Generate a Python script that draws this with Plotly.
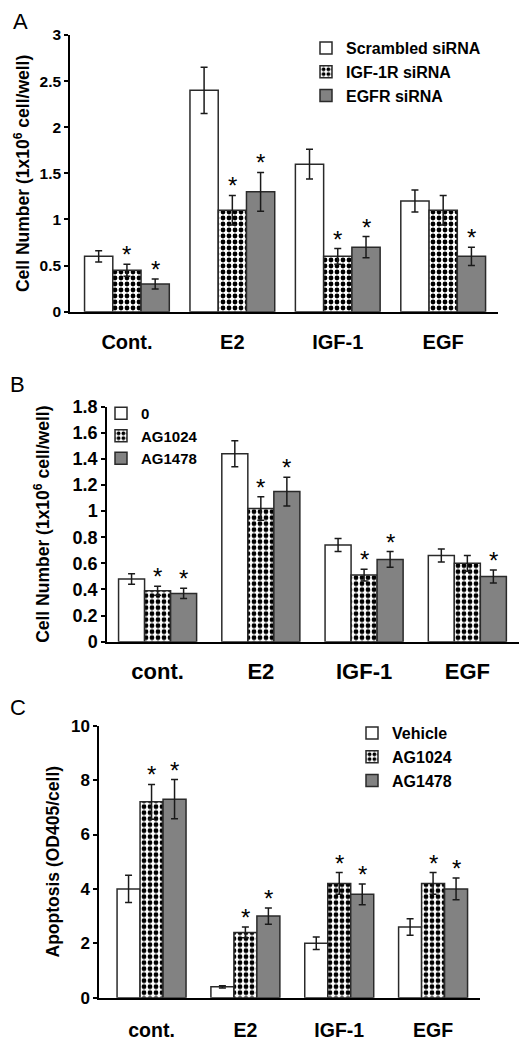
import plotly.graph_objects as go

# The page body adds an 8px margin; the figure is sized so that the page
# matches the 527x1050 reference, and positions below are page pixels.
PAGE_OFF = 8
W, H = 527 - PAGE_OFF, 1050 - PAGE_OFF
FONT = "Liberation Sans, Arial, sans-serif"

# ---------------- data ----------------
# Panel A
cats_a = ["Cont.", "E2", "IGF-1", "EGF"]
names_a = ["Scrambled siRNA", "IGF-1R siRNA", "EGFR siRNA"]
a_scr = [0.6, 2.4, 1.6, 1.2]
a_scr_err = [0.06, 0.25, 0.16, 0.12]
a_igf1r = [0.45, 1.1, 0.6, 1.1]
a_igf1r_err = [0.065, 0.16, 0.085, 0.16]
a_egfr = [0.3, 1.3, 0.7, 0.6]
a_egfr_err = [0.055, 0.21, 0.115, 0.10]
a_sig = [[0, 0, 0, 0], [1, 1, 1, 0], [1, 1, 1, 1]]

# Panel B
cats_b = ["cont.", "E2", "IGF-1", "EGF"]
names_b = ["0", "AG1024", "AG1478"]
b_0 = [0.48, 1.44, 0.74, 0.66]
b_0_err = [0.04, 0.10, 0.05, 0.05]
b_ag1024 = [0.39, 1.02, 0.51, 0.60]
b_ag1024_err = [0.035, 0.09, 0.045, 0.06]
b_ag1478 = [0.37, 1.15, 0.63, 0.50]
b_ag1478_err = [0.04, 0.11, 0.06, 0.05]
b_sig = [[0, 0, 0, 0], [1, 1, 1, 0], [1, 1, 1, 1]]

# Panel C
cats_c = ["cont.", "E2", "IGF-1", "EGF"]
names_c = ["Vehicle", "AG1024", "AG1478"]
c_veh = [4.0, 0.4, 2.0, 2.6]
c_veh_err = [0.5, 0.04, 0.23, 0.3]
c_ag1024 = [7.2, 2.4, 4.2, 4.2]
c_ag1024_err = [0.64, 0.2, 0.4, 0.4]
c_ag1478 = [7.3, 3.0, 3.8, 4.0]
c_ag1478_err = [0.72, 0.3, 0.38, 0.4]
c_sig = [[0, 0, 0, 0], [1, 1, 1, 1], [1, 1, 1, 1]]

# ---------------- styling ----------------
OUTLINE = dict(color="#2a2a2a", width=1.5)
GRAY = "#828282"


def styles():
    return [
        dict(color="white", line=OUTLINE),
        dict(color="white", line=OUTLINE,
             pattern=dict(shape=".", fgcolor="black", bgcolor="white",
                          size=6, solidity=0.5, fillmode="replace")),
        dict(color=GRAY, line=OUTLINE),
    ]


def px_x(x):
    return (x - PAGE_OFF) / W


def px_y(y):
    return 1 - (y - PAGE_OFF) / H


def xd(l, r):
    return [px_x(l), px_x(r)]


def yd(top, bottom):
    return [px_y(bottom), px_y(top)]


panels = [
    dict(cats=cats_a, names=names_a, vals=[a_scr, a_igf1r, a_egfr],
         errs=[a_scr_err, a_igf1r_err, a_egfr_err], sig=a_sig,
         xdom=xd(70, 498), ydom=yd(35, 311.7), xrange=[-0.54, 3.52],
         yrange=[0, 3], dtick=0.5, bw=0.268, tickfs=15.5, catfs=20,
         title="Cell Number (1x10<sup>6</sup> cell/well)", titlefs=17.5,
         standoff=5, catgap=12, legend_xy=(306, 31), legfs=16,
         letter="A", letter_xy=(11, 21)),
    dict(cats=cats_b, names=names_b, vals=[b_0, b_ag1024, b_ag1478],
         errs=[b_0_err, b_ag1024_err, b_ag1478_err], sig=b_sig,
         xdom=xd(107, 520), ydom=yd(406.7, 641.7), xrange=[-0.49, 3.51],
         yrange=[0, 1.8], dtick=0.2, bw=0.252, tickfs=18, catfs=22,
         title="Cell Number (1x10<sup>6</sup> cell/well)", titlefs=17.5,
         standoff=18, catgap=9, legend_xy=(101, 397), legfs=15,
         letter="B", letter_xy=(8, 385)),
    dict(cats=cats_c, names=names_c, vals=[c_veh, c_ag1024, c_ag1478],
         errs=[c_veh_err, c_ag1024_err, c_ag1478_err], sig=c_sig,
         xdom=xd(99, 480), ydom=yd(725.7, 997.7), xrange=[-0.56, 3.5],
         yrange=[0, 10], dtick=2, bw=0.245, tickfs=17, catfs=19.5,
         title="Apoptosis (OD405/cell)", titlefs=17.5,
         standoff=7, catgap=14, legend_xy=(352, 716), legfs=16,
         letter="C", letter_xy=(8, 707)),
]

fig = go.Figure()
annotations = []
layout = dict(
    width=W, height=H, margin=dict(l=0, r=0, t=0, b=0),
    paper_bgcolor="white", plot_bgcolor="white",
    barmode="overlay", font=dict(family=FONT, color="black"),
)

for pi, p in enumerate(panels):
    sfx = "" if pi == 0 else str(pi + 1)
    xa, ya = "x" + sfx, "y" + sfx
    leg = "legend" + sfx
    st = styles()
    bw = p["bw"]
    for k in range(3):
        off = (k - 1.5) * bw
        fig.add_trace(go.Bar(
            x=p["cats"], y=p["vals"][k], name=p["names"][k],
            width=bw, offset=off, marker=st[k],
            error_y=dict(type="data", array=p["errs"][k], visible=True,
                         color="#1a1a1a", thickness=1.5, width=3.5),
            xaxis=xa, yaxis=ya, legend=leg,
        ))
        for i in range(len(p["cats"])):
            if p["sig"][k][i]:
                annotations.append(dict(
                    x=i + (k - 1) * bw, y=p["vals"][k][i] + p["errs"][k][i],
                    xref=xa, yref=ya, text="*", showarrow=False,
                    yanchor="bottom", yshift=-6,
                    font=dict(family=FONT, size=24, color="black"),
                ))
    layout["xaxis" + sfx] = dict(
        domain=p["xdom"], anchor=ya, type="category", range=p["xrange"],
        showline=True, linecolor="black", linewidth=1.5,
        ticks="outside", ticklen=p["catgap"], tickcolor="rgba(0,0,0,0)",
        showgrid=False, zeroline=False, automargin=False,
        tickfont=dict(family=FONT, size=p["catfs"], weight="bold", color="black"),
    )
    layout["yaxis" + sfx] = dict(
        domain=p["ydom"], anchor=xa, range=p["yrange"], dtick=p["dtick"],
        showline=True, linecolor="black", linewidth=1.5, ticks="outside",
        ticklen=4, tickwidth=1.5, tickcolor="black",
        showgrid=False, zeroline=False, automargin=False,
        tickfont=dict(family=FONT, size=p["tickfs"], weight="bold", color="black"),
        title=dict(text=p["title"], standoff=p["standoff"],
                   font=dict(family=FONT, size=p["titlefs"], weight="bold", color="black")),
    )
    lx, ly = p["legend_xy"]
    layout[leg] = dict(
        x=px_x(lx), y=px_y(ly), xanchor="left", yanchor="top",
        bgcolor="rgba(0,0,0,0)", itemclick=False,
        font=dict(family=FONT, size=p["legfs"], weight="bold", color="black"),
    )
    lx2, ly2 = p["letter_xy"]
    annotations.append(dict(
        x=px_x(lx2), y=px_y(ly2), xref="paper", yref="paper",
        text=p["letter"], showarrow=False, xanchor="left", yanchor="middle",
        font=dict(family=FONT, size=22, color="black"),
    ))

layout["annotations"] = annotations
fig.update_layout(**layout)
fig.write_html("out.html")
